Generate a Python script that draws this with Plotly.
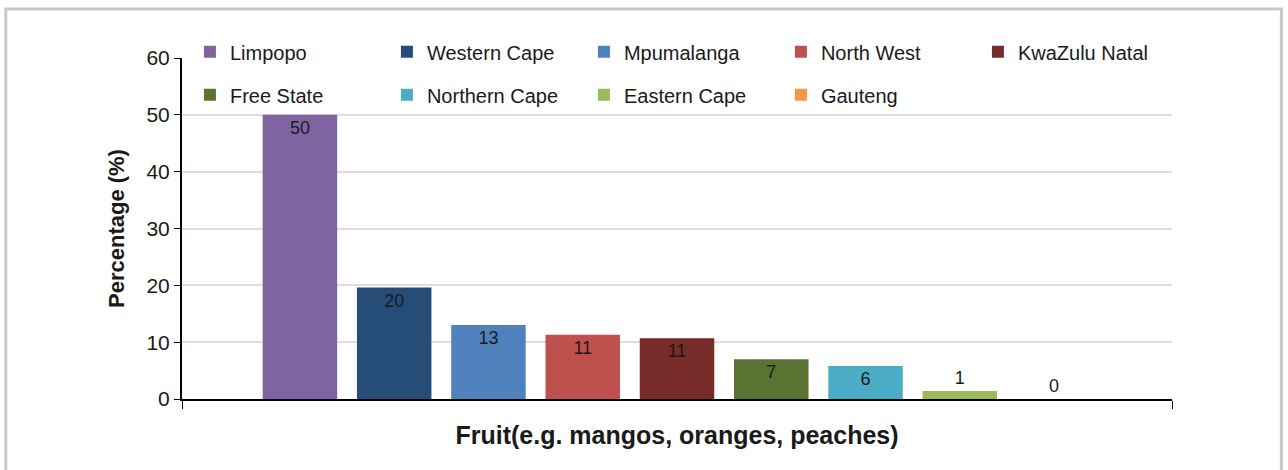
import plotly.graph_objects as go

category = ["Fruit(e.g. mangos, oranges, peaches)"]
provinces = ["Limpopo", "Western Cape", "Mpumalanga", "North West", "KwaZulu Natal",
             "Free State", "Northern Cape", "Eastern Cape", "Gauteng"]
values = [50, 19.6, 13.0, 11.3, 10.7, 7.0, 5.8, 1.4, 0]
colors = ["#8064A2", "#264D78", "#4F81BD", "#C0504D", "#772C2A",
          "#5A7332", "#4BACC6", "#9BBB59", "#F79646"]
y_ticks = [0, 10, 20, 30, 40, 50, 60]

FONT = "Liberation Sans, Arial, sans-serif"
TXT = "#1a1a1a"

fig = go.Figure()
for i, (name, v, c) in enumerate(zip(provinces, values, colors)):
    fig.add_trace(go.Bar(
        x=[" "], y=[v], name=name, marker_color=c, marker_line_width=0,
        text=[f"{v:.0f}"], textposition="auto" if v > 0 else "outside",
        insidetextanchor="end",
        textfont=dict(size=18, color=TXT, family=FONT),
        insidetextfont=dict(size=18, color=TXT, family=FONT),
        outsidetextfont=dict(size=18, color=TXT, family=FONT),
        constraintext="none", cliponaxis=False,
        legend="legend" if i < 5 else "legend2",
    ))

leg_common = dict(orientation="h", bgcolor="rgba(0,0,0,0)", entrywidth=152,
                  entrywidthmode="pixels", itemwidth=30,
                  font=dict(size=20, family=FONT, color=TXT),
                  xanchor="left", yanchor="middle", traceorder="normal",
                  itemclick=False)

fig.update_layout(
    width=1288, height=470,
    margin=dict(l=182, r=116, t=58, b=71),
    plot_bgcolor="white", paper_bgcolor="white",
    barmode="group", bargap=0.143, bargroupgap=0.21,
    font=dict(family=FONT, color=TXT),
    legend=dict(x=0.008, y=1.018, **leg_common),
    legend2=dict(x=0.008, y=0.892, **leg_common),
    xaxis=dict(
        showticklabels=False, ticks="outside", tickson="boundaries", ticklen=8,
        tickcolor="black", showline=True, linecolor="black", linewidth=2,
        showgrid=False, automargin=False,
        title=dict(text="<b>" + category[0] + "</b>",
                   font=dict(size=25, family=FONT, color=TXT), standoff=26),
    ),
    yaxis=dict(
        range=[0, 60], tickvals=y_ticks, ticks="outside", ticklen=6, tickcolor="black",
        showline=True, linecolor="black", linewidth=2, automargin=False,
        gridcolor="#E6DADA", gridwidth=1.5, zeroline=False,
        tickfont=dict(size=21, family=FONT, color=TXT),
        title=dict(text="<b>Percentage (%)</b>",
                   font=dict(size=22, family=FONT, color=TXT), standoff=16),
    ),
)

fig.add_shape(type="rect", xref="paper", yref="paper",
              x0=-0.178, x1=1.1105, y0=-0.25, y1=1.144,
              line=dict(color="#C8C8C8", width=3), fillcolor="rgba(0,0,0,0)",
              layer="below")

fig.write_html("out.html", config={"displayModeBar": False},
               post_script="document.body.style.margin='0px';document.body.style.padding='0px';")
